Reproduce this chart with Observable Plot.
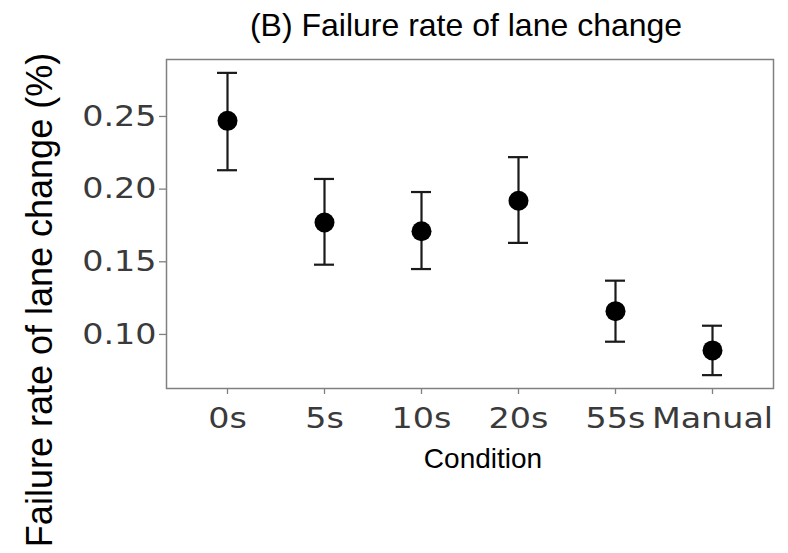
<!DOCTYPE html>
<html>
<head>
<meta charset="utf-8">
<script src="https://cdn.jsdelivr.net/npm/d3@7"></script>
<script src="https://cdn.jsdelivr.net/npm/@observablehq/plot@0.6"></script>
<style>
  html, body { margin: 0; padding: 0; background: white; }
</style>
</head>
<body>
<script>
const conditions = ["0s", "5s", "10s", "20s", "55s", "Manual"];
const means = [0.247, 0.177, 0.171, 0.192, 0.116, 0.089];
const lower = [0.213, 0.148, 0.145, 0.163, 0.095, 0.072];
const upper = [0.280, 0.207, 0.198, 0.222, 0.137, 0.106];
const yTicks = [0.10, 0.15, 0.20, 0.25];

const data = conditions.map((c, i) => ({condition: c, mean: means[i], lower: lower[i], upper: upper[i]}));

const chart = Plot.plot({
  width: 788,
  height: 553,
  marginLeft: 166,
  marginRight: 15,
  marginTop: 59,
  marginBottom: 165,
  style: {background: "white", fontFamily: "'Liberation Sans', Arial, sans-serif", color: "black"},
  x: {type: "band", domain: conditions, paddingInner: 0.796, paddingOuter: 0.5, label: null},
  y: {domain: [0.0628, 0.2892], label: null},
  marks: [
    Plot.frame({stroke: "#808080", strokeWidth: 1.5}),
    Plot.axisY(yTicks, {tickSize: 7, tickPadding: 3, fontSize: 29, fontFamily: "DejaVu Sans", fill: "#3a3a3a", stroke: "#808080", strokeWidth: 1.3, tickFormat: d3.format(".2f"), label: null}),
    Plot.axisX({tickSize: 6, tickPadding: 13, fontSize: 29, fontFamily: "DejaVu Sans", fill: "#3a3a3a", stroke: "#808080", strokeWidth: 1.3, label: null}),
    Plot.ruleX(data, {x: "condition", y1: "lower", y2: "upper", stroke: "#1a1a1a", strokeWidth: 2.2}),
    Plot.tickY(data, {x: "condition", y: "lower", stroke: "#1a1a1a", strokeWidth: 2.2}),
    Plot.tickY(data, {x: "condition", y: "upper", stroke: "#1a1a1a", strokeWidth: 2.2}),
    Plot.dot(data, {x: "condition", y: "mean", r: 10, fill: "black", stroke: "none"}),
    Plot.text(["(B) Failure rate of lane change"], {frameAnchor: "top", text: d => d, fontSize: 32, textAnchor: "middle", lineAnchor: "bottom", dy: -24, dx: -4, fill: "black"}),
    Plot.text(["Condition"], {frameAnchor: "bottom", text: d => d, fontSize: 28, textAnchor: "middle", lineAnchor: "bottom", dy: 79, dx: 13, fill: "black"}),
    Plot.text(["Failure rate of lane change (%)"], {frameAnchor: "left", rotate: -90, text: d => d, fontSize: 36, textAnchor: "middle", lineAnchor: "bottom", dx: -115, dy: 76, fill: "black"})
  ]
});

document.body.append(chart);

// widen tick label glyphs slightly to match the reference's wide numerals
chart.querySelectorAll('g[aria-label="x-axis tick label"] text, g[aria-label="y-axis tick label"] text').forEach(t => {
  const w = t.getComputedTextLength();
  t.setAttribute("textLength", w * 1.15);
  t.setAttribute("lengthAdjust", "spacingAndGlyphs");
});
</script>
</body>
</html>
